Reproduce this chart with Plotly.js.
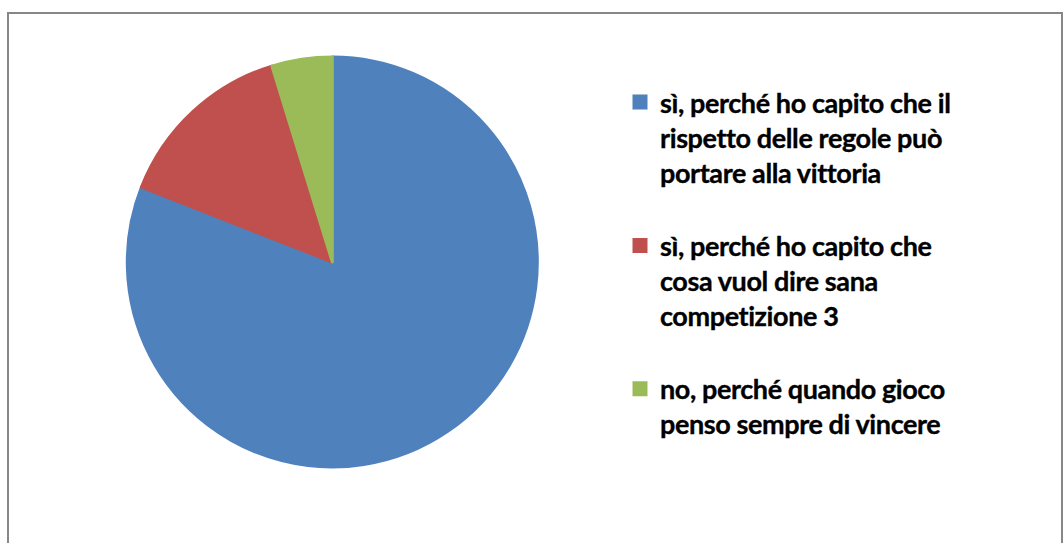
<!DOCTYPE html>
<html>
<head>
<meta charset="utf-8">
<script src="https://cdn.plot.ly/plotly-3.0.1.min.js"></script>
<style>
html,body{margin:0;padding:0;background:#fff;}
#chart{width:1063px;height:543px;}
#chart .legendtext{letter-spacing:-0.4px;stroke:#000;stroke-width:0.35px;}
</style>
</head>
<body>
<div id="chart"></div>
<script>
const categories = [
  "sì, perché ho capito che il<br>rispetto delle regole può<br>portare alla vittoria<br> ",
  "sì, perché ho capito che<br>cosa vuol dire sana<br>competizione 3<br> ",
  "no, perché quando gioco<br>penso sempre di vincere"
];
const values = [17, 3, 1];
const colors = ["#4F81BD", "#C0504D", "#9BBB59"];

const W = 1063, H = 543;
const cx = 332.3, cy = 262, r = 205;

const trace = {
  type: "pie",
  labels: categories,
  values: values,
  sort: false,
  direction: "clockwise",
  rotation: 0,
  textinfo: "none",
  hoverinfo: "label+value+percent",
  marker: {colors: colors, line: {width: 3, color: colors}},
  domain: {x: [(cx - r) / W, (cx + r) / W], y: [(H - cy - r) / H, (H - cy + r) / H]}
};

const layout = {
  width: W, height: H,
  margin: {l: 0, r: 0, t: 0, b: 0},
  paper_bgcolor: "#ffffff",
  showlegend: true,
  legend: {
    x: 620 / W, y: (H - 78) / H, xanchor: "left", yanchor: "top",
    valign: "top",
    font: {family: "Lato, 'Open Sans', sans-serif", size: 27, color: "#000000", weight: "bold"},
    itemwidth: 30,
    bgcolor: "rgba(0,0,0,0)"
  },
  shapes: [{
    type: "rect", xref: "paper", yref: "paper",
    x0: 8 / W, x1: 1062 / W, y0: -0.05, y1: (H - 13) / H,
    line: {color: "#878787", width: 2}
  }]
};

Plotly.newPlot("chart", [trace], layout, {displayModeBar: false, staticPlot: true});
</script>
</body>
</html>
